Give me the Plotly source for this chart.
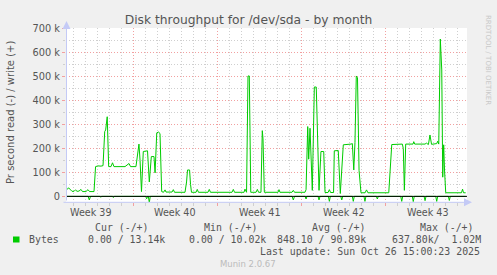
import plotly.graph_objects as go

# ---------------- data (x = days since start of Week 40, y = bytes/s) ----------------
write_days = [-5.56, -5.47, -5.39, -5.31, -5.22, -5.10, -4.93, -4.81, -4.68, -4.52, -4.35, -4.23,
              -3.94, -3.77, -3.64, -3.27, -3.14, -2.94, -2.69, -2.52, -2.38, -2.30, -2.17, -2.05,
              -1.86, -1.73, -1.61, -1.11, -0.69, -0.36, -0.23, 0.22, 0.35, 0.47, 0.56, 0.68,
              0.83, 1.18, 1.33, 1.50, 1.72, 1.81, 1.95, 2.10, 2.22, 2.36, 2.51, 2.64, 2.72,
              3.22, 3.33, 3.43, 4.30, 4.43, 4.51, 4.68, 4.76, 4.84, 5.22, 5.32, 5.42, 6.21,
              6.32, 6.42, 8.21, 8.32, 8.42, 9.21, 9.29, 9.42, 9.54, 9.65, 9.77, 10.21, 10.32,
              10.42, 10.62, 10.73, 10.79, 10.90, 12.04, 12.12, 12.20, 13.20, 13.31, 13.41,
              14.28, 14.37, 14.51, 14.59, 14.70, 14.89, 15.06, 15.22, 15.45, 15.61, 15.84,
              15.95, 16.20, 16.31, 16.41, 16.66, 16.72, 17.05, 17.22, 17.47, 18.11, 18.22,
              18.34, 18.44, 18.55, 18.65, 18.78, 18.94, 19.28, 19.40, 19.52, 21.25, 21.50,
              22.38, 22.46, 22.55, 22.66, 23.27, 23.33, 23.41, 24.27, 24.38, 24.55, 24.68,
              24.81, 25.24, 25.32, 25.41, 25.54, 25.66, 25.74, 25.82, 25.89, 25.99, 26.76,
              27.30, 27.39, 27.47, 27.65]
write_k = [34, 30, 36, 31, 24, 21, 21, 27, 21, 22, 29, 20,
           20, 28, 20, 20, 124, 127, 126, 128, 270, 277, 332, 124,
           124, 140, 124, 123, 124, 137, 124, 124, 170, 218, 150, 20,
           187, 190, 60, 166, 166, 98, 265, 268, 262, 20, 17, 27, 18,
           18, 28, 17, 17, 60, 110, 110, 50, 17, 17, 29, 17, 17,
           29, 17, 17, 29, 17, 17, 30, 17, 502, 502, 17, 17, 29,
           17, 17, 274, 240, 17, 17, 28, 17, 17, 25, 17,
           17, 28, 291, 155, 284, 25, 456, 456, 25, 187, 187,
           16, 16, 28, 16, 16, 190, 191, 12, 215, 218, 220,
           110, 225, 502, 495, 108, 15, 15, 27, 15, 15, 216,
           218, 200, 25, 218, 218, 228, 218, 218, 222, 216, 256,
           217, 220, 230, 218, 656, 527, 80, 215, 110, 15, 15,
           15, 30, 15, 15]

read_days = [-5.56, -3.76, -3.66, -3.56, -2.78, -2.71, -2.64, -1.73, -1.66, -1.59,
             1.03, 1.11, 1.19, 1.25, 1.33, 1.41, 13.21, 13.31, 13.41, 14.29, 14.37, 14.45,
             15.37, 15.45, 15.53, 16.23, 16.31, 16.39, 17.26, 17.34, 17.42, 18.22, 18.30,
             18.38, 19.19, 19.27, 19.35, 20.22, 20.30, 20.38, 22.25, 22.33, 22.41, 23.21,
             23.29, 23.37, 24.19, 24.27, 24.35, 25.16, 25.24, 25.32, 26.21, 26.29, 26.37, 27.65]
read_k = [0, 0, -15, 0, 0, -4, 0, 0, -5, 0,
          0, -10, 0, 0, -26, 0, 0, -15, 0, 0, -11, 0,
          0, -15, 0, 0, -21, 0, 0, -15, 0, 0, -21,
          0, 0, -21, 0, 0, -11, 0, 0, -21, 0, 0,
          -22, 0, 0, -18, 0, 0, -21, 0, 0, -17, 0, 0]

y_tick_vals = [0, 100000, 200000, 300000, 400000, 500000, 600000, 700000]
y_tick_text = ["0", "100 k", "200 k", "300 k", "400 k", "500 k", "600 k", "700 k"]
week_centers = [-3.5, 3.5, 10.5, 17.5, 24.5]
week_labels = ["Week 39", "Week 40", "Week 41", "Week 42", "Week 43"]

legend_headers = ["Cur (-/+)", "Min (-/+)", "Avg (-/+)", "Max (-/+)"]
legend_values = ["0.00 / 13.14k", "0.00 / 10.02k", "848.10 / 90.89k", "637.80k/\u00a0\u00a01.02M"]
series_name = "Bytes"
last_update = "Last update: Sun Oct 26 15:00:23 2025"

# ---------------- layout geometry ----------------
W, H = 497, 275
ML, MR, MT, MB = 66, 30, 28, 73
PW = W - ML - MR
PH = H - MT - MB


def fx(px):
    return (px - ML) / PW


def fy(py):
    return (H - MB - py) / PH


GREEN = "#00CC00"
TXT = "#555555"
MAJ = "#f2a0a0"
MIN = "#cfcfcf"
AXC = "#c4caf6"
MONO = "DejaVu Sans Mono"
SANS = "DejaVu Sans"

fig = go.Figure()
fig.add_trace(go.Scatter(x=read_days, y=[v * 1000 for v in read_k], mode="lines",
                         line=dict(color=GREEN, width=1), hoverinfo="skip", showlegend=False))
fig.add_trace(go.Scatter(x=write_days, y=[v * 1000 for v in write_k], mode="lines",
                         line=dict(color=GREEN, width=1), hoverinfo="skip", showlegend=False))

annotations = []
# week labels
for c, t in zip(week_centers, week_labels):
    annotations.append(dict(x=c, xref="x", y=fy(212.5), yref="paper", text=t, showarrow=False,
                            font=dict(family=SANS, size=9.6, color=TXT), xanchor="center", yanchor="middle"))
# y-axis title
annotations.append(dict(x=fx(10), y=fy(113), xref="paper", yref="paper", text="Pr second read (-) / write (+)",
                        textangle=-90, showarrow=False, font=dict(family=SANS, size=10, color=TXT),
                        xanchor="center", yanchor="middle"))
# rrdtool credit
annotations.append(dict(x=fx(488), y=fy(60), xref="paper", yref="paper", text="RRDTOOL / TOBI OETIKER",
                        textangle=90, showarrow=False, font=dict(family=SANS, size=7, color="#c8c8c8"),
                        xanchor="center", yanchor="middle"))
# legend headers
for t, r in zip(legend_headers, [151, 260, 368, 476]):
    annotations.append(dict(x=fx(r), y=fy(227.7), xref="paper", yref="paper", text=t, showarrow=False,
                            font=dict(family=MONO, size=9.9, color=TXT), xanchor="right", yanchor="middle"))
annotations.append(dict(x=fx(27), y=fy(239.3), xref="paper", yref="paper", text=series_name, showarrow=False,
                        font=dict(family=MONO, size=9.9, color=TXT), xanchor="left", yanchor="middle"))
for t, r in zip(legend_values, [167, 268, 368, 483]):
    annotations.append(dict(x=fx(r), y=fy(239.3), xref="paper", yref="paper", text=t, showarrow=False,
                            font=dict(family=MONO, size=9.9, color=TXT), xanchor="right", yanchor="middle"))
annotations.append(dict(x=fx(482), y=fy(251.3), xref="paper", yref="paper", text=last_update, showarrow=False,
                        font=dict(family=MONO, size=9.9, color=TXT), xanchor="right", yanchor="middle"))
annotations.append(dict(x=fx(248), y=fy(264), xref="paper", yref="paper", text="Munin 2.0.67", showarrow=False,
                        font=dict(family=SANS, size=8.5, color="#bbbbbb"), xanchor="center", yanchor="middle"))
# axis lines with arrows
annotations.append(dict(x=fx(66.5), y=fy(21), xref="paper", yref="paper", ax=0, ay=181, text="",
                        showarrow=True, arrowhead=2, arrowsize=1.6, arrowwidth=1, arrowcolor=AXC))
annotations.append(dict(x=fx(472), y=fy(202.3), xref="paper", yref="paper", ax=-410, ay=0, text="",
                        showarrow=True, arrowhead=2, arrowsize=1.6, arrowwidth=1, arrowcolor=AXC))

shapes = [
    dict(type="line", xref="paper", yref="y", x0=0, x1=1, y0=0, y1=0,
         line=dict(color="black", width=1), layer="above"),
    dict(type="rect", xref="paper", yref="paper", x0=fx(13), x1=fx(19.5), y0=fy(242.5), y1=fy(236.5),
         fillcolor=GREEN, line=dict(width=0)),
]

fig.update_layout(
    width=W, height=H,
    margin=dict(l=ML, r=MR, t=MT, b=MB, pad=0),
    paper_bgcolor="#F0F0F0", plot_bgcolor="#FFFFFF",
    title=dict(text="Disk throughput for /dev/sda - by month", x=0.5, xanchor="center",
               y=1 - 19.5 / H, yanchor="middle", font=dict(family=SANS, size=12.3, color=TXT)),
    xaxis=dict(range=[-5.6, 27.76], tick0=0, dtick=7, showgrid=True, gridcolor=MAJ, griddash="1px,2px",
               gridwidth=1, zeroline=False, showticklabels=False, ticks="outside", ticklen=3,
               tickcolor=MAJ, showline=False, fixedrange=True,
               minor=dict(tick0=0, dtick=1, showgrid=True, gridcolor=MIN, griddash="1px,2px", gridwidth=1,
                          ticks="outside", ticklen=3, tickcolor=MIN)),
    yaxis=dict(range=[-23500, 702000], tickvals=y_tick_vals, ticktext=y_tick_text, showgrid=True,
               gridcolor=MAJ, griddash="1px,2px", gridwidth=1, zeroline=False, ticks="outside", ticklen=3,
               tickcolor=MAJ, tickfont=dict(family=SANS, size=9.8, color=TXT), showline=False, fixedrange=True,
               minor=dict(dtick=50000, tick0=0, showgrid=True, gridcolor=MIN, griddash="1px,2px", gridwidth=1,
                          ticks="outside", ticklen=2, tickcolor=MIN)),
    annotations=annotations,
    shapes=shapes,
    showlegend=False,
)

fig.write_html("out.html", config={"displayModeBar": False})
